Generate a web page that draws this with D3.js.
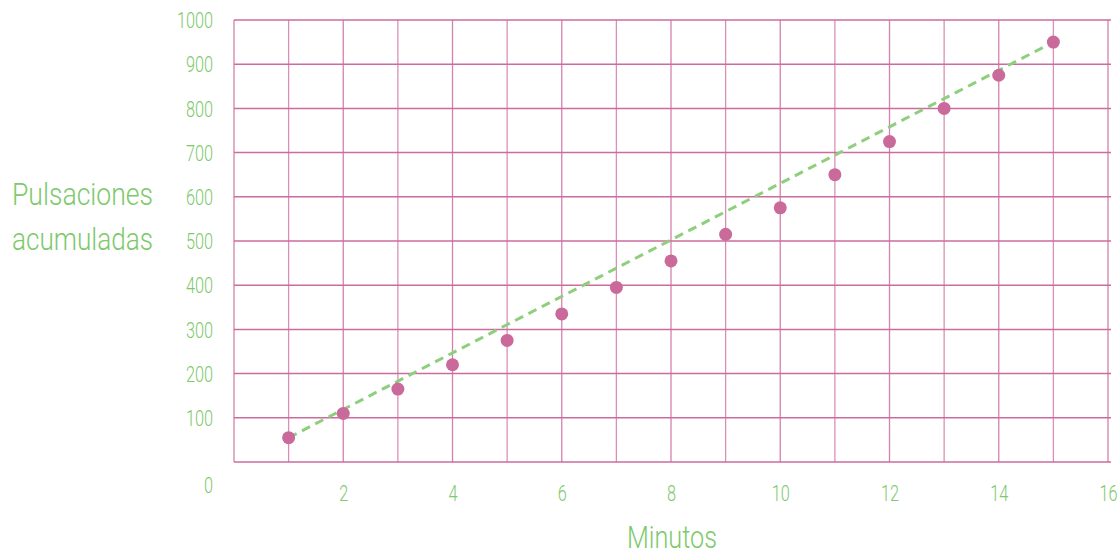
<!DOCTYPE html>
<html>
<head>
<meta charset="utf-8">
<script src="https://cdn.jsdelivr.net/npm/d3@7"></script>
<style>
  body { margin: 0; background: #fff; }
  svg text { font-family: "Roboto", "DejaVu Sans", sans-serif; font-weight: 300; fill: #7dc96b; }
</style>
</head>
<body>
<div id="chart"></div>
<script>
// data
const minutes = [1, 2, 3, 4, 5, 6, 7, 8, 9, 10, 11, 12, 13, 14, 15];
const pulses = [55, 110, 165, 220, 275, 335, 395, 455, 515, 575, 650, 725, 800, 875, 950];
const trendX = [1, 15];
const trendY = [55, 950];
const xTicks = [2, 4, 6, 8, 10, 12, 14, 16];
const yTicks = [0, 100, 200, 300, 400, 500, 600, 700, 800, 900, 1000];

const width = 1120, height = 552;
const margin = {top: 20, right: 11, bottom: 90, left: 234};

const svg = d3.select("#chart").append("svg")
    .attr("width", width)
    .attr("height", height);

let x = d3.scaleLinear().domain([0, 16]).range([margin.left, 1108]);
let y = d3.scaleLinear().domain([0, 1000]).range([height - margin.bottom, margin.top]);

const gridColor = "#cc6b9e";

// squeeze text horizontally, the original uses a condensed face
function condense(sel, k) {
    sel.each(function() {
        let w = this.getComputedTextLength();
        d3.select(this)
            .attr("textLength", w * k)
            .attr("lengthAdjust", "spacingAndGlyphs");
    });
}

// grid
let grid = svg.append("g").attr("id", "grid");
grid.selectAll("line.v")
    .data(d3.range(0, 17))
    .enter().append("line")
    .attr("class", "v")
    .attr("x1", d => x(d)).attr("x2", d => x(d))
    .attr("y1", y(1000)).attr("y2", y(0))
    .attr("stroke", gridColor)
    .attr("stroke-width", 1.3)
    .attr("stroke-opacity", d => d % 2 ? 0.75 : 0.85);
grid.selectAll("line.h")
    .data(yTicks)
    .enter().append("line")
    .attr("class", "h")
    .attr("x1", x(0)).attr("x2", width - margin.right + 2)
    .attr("y1", d => y(d)).attr("y2", d => y(d))
    .attr("stroke", gridColor)
    .attr("stroke-width", 1.5);

// y axis labels
let yaxis = d3.axisLeft(y).tickValues(yTicks).tickSize(0).tickPadding(21).tickFormat(d3.format("d"));
let yaxisSel = svg.append("g")
    .attr("transform", `translate(${x(0)},0)`)
    .call(yaxis);
yaxisSel.select(".domain").remove();
yaxisSel.selectAll("text")
    .attr("fill", null)
    .style("font-size", "22px")
    .attr("dy", d => d === 0 ? "1.4em" : "0.35em")
    .call(condense, 0.74);

// x axis labels
let xaxis = d3.axisBottom(x).tickValues(xTicks).tickSize(0).tickPadding(23).tickFormat(d3.format("d"));
let xaxisSel = svg.append("g")
    .attr("transform", `translate(0,${y(0)})`)
    .call(xaxis);
xaxisSel.select(".domain").remove();
xaxisSel.selectAll("text")
    .attr("fill", null)
    .style("font-size", "22px")
    .call(condense, 0.74);

// trend line
svg.append("path")
    .datum(trendX.map((d, i) => [d, trendY[i]]))
    .attr("d", d3.line().x(d => x(d[0])).y(d => y(d[1])))
    .attr("fill", "none")
    .attr("stroke", "#8ecf7e")
    .attr("stroke-width", 3)
    .attr("stroke-dasharray", "9 6");

// points
svg.append("g").selectAll("circle")
    .data(minutes)
    .enter().append("circle")
    .attr("cx", d => x(d))
    .attr("cy", (d, i) => y(pulses[i]))
    .attr("r", 6.5)
    .attr("fill", "#c96a9b");

// titles
let titles = svg.append("g").style("font-size", "31px").style("font-weight", 500);
titles.append("text")
    .attr("x", 12).attr("y", 205)
    .text("Pulsaciones")
    .attr("textLength", 141).attr("lengthAdjust", "spacingAndGlyphs");
titles.append("text")
    .attr("x", 12).attr("y", 250)
    .text("acumuladas")
    .attr("textLength", 141).attr("lengthAdjust", "spacingAndGlyphs");
titles.append("text")
    .attr("x", 627).attr("y", 548)
    .text("Minutos")
    .attr("textLength", 90).attr("lengthAdjust", "spacingAndGlyphs");
</script>
</body>
</html>
